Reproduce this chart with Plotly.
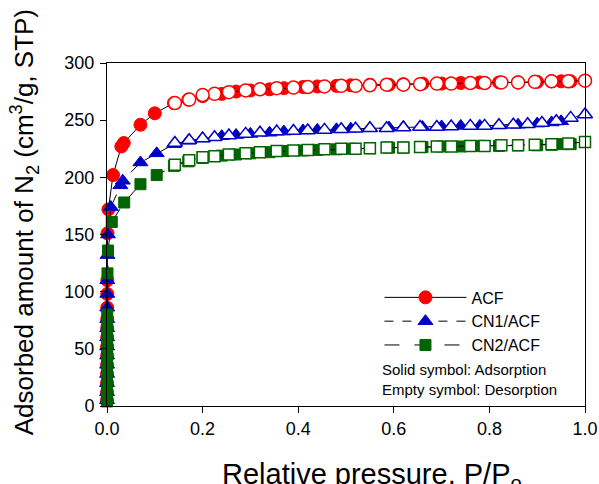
import plotly.graph_objects as go

# ---------------- data ----------------
acf_ads_p = [0.0, 0.0001, 0.0001, 0.0002, 0.0002, 0.0003, 0.0003, 0.0004, 0.0004, 0.0005, 0.0005, 0.0006, 0.0007,
             0.001, 0.003, 0.0125, 0.03, 0.035, 0.07, 0.1,
             0.14, 0.17, 0.2, 0.24, 0.27, 0.3, 0.34, 0.37, 0.41, 0.44, 0.48, 0.51, 0.55, 0.59, 0.62,
             0.66, 0.70, 0.74, 0.78, 0.82, 0.86, 0.90, 0.93, 0.95, 0.97]
acf_ads_v = [5, 12, 20, 28, 36, 44, 52, 60, 68, 76, 86, 98, 110,
             151, 172, 202, 227, 230, 246, 256,
             265, 268, 271, 273, 275, 276, 277, 278, 279, 279.5, 280, 280.5, 281, 281, 281.5,
             282, 282, 282.5, 283, 283, 283, 283.5, 284, 284, 284]
acf_des_p = [1.0, 0.965, 0.93, 0.895, 0.86, 0.825, 0.79, 0.76, 0.72, 0.69, 0.655, 0.62, 0.585, 0.55,
             0.52, 0.49, 0.455, 0.42, 0.39, 0.355, 0.32, 0.29, 0.255, 0.225, 0.2, 0.172, 0.142]
acf_des_v = [284.5, 284, 284, 283.5, 283, 283, 282.5, 282.5, 282, 282, 281.5, 281, 281, 280.5,
             280, 280, 279.5, 279, 278.5, 278, 277, 276, 274.5, 273, 272, 268, 265]

cn1_ads_p = [0.0, 0.0001, 0.0001, 0.0002, 0.0002, 0.0003, 0.0003, 0.0004, 0.0004, 0.0005, 0.0005, 0.0006, 0.0007,
             0.001, 0.002, 0.008, 0.028, 0.033, 0.07, 0.104,
             0.14, 0.17, 0.2, 0.24, 0.27, 0.3, 0.34, 0.37, 0.41, 0.44, 0.48, 0.51, 0.55, 0.59, 0.62,
             0.66, 0.70, 0.74, 0.78, 0.82, 0.86, 0.90, 0.93, 0.95]
cn1_ads_v = [5, 12, 20, 28, 36, 44, 52, 60, 68, 76, 86, 98, 110,
             132, 150, 174, 193, 197, 213, 221,
             229, 232, 234, 236, 237, 238, 239, 240, 241, 241.5, 242, 242.5, 243, 243.5, 244,
             244, 244.5, 245, 245, 245.5, 246, 247, 248, 249]
cn1_des_p = [1.0, 0.97, 0.94, 0.91, 0.88, 0.85, 0.82, 0.79, 0.76, 0.72, 0.69, 0.655, 0.62, 0.585,
             0.55, 0.52, 0.49, 0.455, 0.42, 0.39, 0.355, 0.32, 0.29, 0.255, 0.225, 0.2, 0.172, 0.142]
cn1_des_v = [255, 252, 249, 247.5, 246.5, 246, 245.5, 245, 245, 244.5, 244, 244, 243.5, 243,
             243, 242.5, 242, 241.5, 241, 240.5, 240, 239, 238, 236.5, 235, 234, 232.5, 230]

cn2_ads_p = [0.0, 0.0001, 0.0001, 0.0002, 0.0002, 0.0003, 0.0003, 0.0004, 0.0004, 0.0005, 0.0005,
             0.001, 0.002, 0.01, 0.036, 0.07, 0.104,
             0.14, 0.17, 0.2, 0.24, 0.27, 0.3, 0.34, 0.37, 0.41, 0.44, 0.48, 0.51, 0.55, 0.59, 0.62,
             0.66, 0.70, 0.74, 0.78, 0.82, 0.86, 0.90, 0.93, 0.95, 0.97]
cn2_ads_v = [4, 10, 17, 24, 31, 38, 46, 54, 62, 70, 80,
             116, 136, 161, 178, 194, 202,
             210, 214, 217, 219, 220, 221, 222, 223, 223.5, 224, 224.5, 225, 225.5, 226, 226,
             226.5, 227, 227, 227.5, 227.5, 228, 228, 228.5, 229, 229]
cn2_des_p = [1.0, 0.965, 0.93, 0.895, 0.86, 0.825, 0.79, 0.76, 0.72, 0.69, 0.655, 0.62, 0.585, 0.55,
             0.52, 0.49, 0.455, 0.42, 0.39, 0.355, 0.32, 0.29, 0.255, 0.225, 0.2, 0.172, 0.142]
cn2_des_v = [231, 229.5, 229, 228.5, 228, 228, 227.5, 227.5, 227, 227, 226.5, 226, 226, 225.5,
             225, 225, 224.5, 224, 223.5, 223, 222, 221, 220, 218.5, 217.5, 215, 211]

series = [
    ("ACF", acf_ads_p, acf_ads_v, acf_des_p, acf_des_v, "circle", "#FF0000", "solid", 13),
    ("CN1/ACF", cn1_ads_p, cn1_ads_v, cn1_des_p, cn1_des_v, "triangle-up", "#0000C8", "dash", 13),
    ("CN2/ACF", cn2_ads_p, cn2_ads_v, cn2_des_p, cn2_des_v, "square", "#006400", "longdash", 11),
]

x_ticks = [0.0, 0.2, 0.4, 0.6, 0.8, 1.0]
y_ticks = [0, 50, 100, 150, 200, 250, 300]

fig = go.Figure()
for name, ap, av, dp, dv, sym, col, dash, size in series:
    fig.add_trace(go.Scatter(
        x=ap, y=av, name=name, mode="lines+markers", cliponaxis=False,
        line=dict(color="black", width=1, dash=dash),
        marker=dict(symbol=sym, size=size, color=col, line=dict(color=col, width=1)),
    ))
    fig.add_trace(go.Scatter(
        x=dp, y=dv, name=name + " desorption", mode="lines+markers", cliponaxis=False,
        showlegend=False,
        line=dict(color="black", width=1, dash=dash),
        marker=dict(symbol=sym, size=size, color="white", line=dict(color=col, width=1.5)),
    ))

axis_common = dict(showline=True, linecolor="black", linewidth=1, mirror=True,
                   ticks="outside", ticklen=6, tickwidth=1, tickcolor="black",
                   showgrid=False, zeroline=False, automargin=False,
                   tickfont=dict(family="Liberation Sans, Arial", size=18, color="black"))

fig.update_xaxes(range=[0, 1], tickvals=x_ticks, ticktext=[f"{v:.1f}" for v in x_ticks], **axis_common)
fig.update_yaxes(range=[0, 300], tickvals=y_ticks, ticktext=[str(v) for v in y_ticks],
                 ticklabelstandoff=2, **axis_common)

fig.update_layout(
    template="none",
    width=599, height=484,
    margin=dict(l=107, r=14, t=63, b=78, autoexpand=False),
    paper_bgcolor="white", plot_bgcolor="white",
    font=dict(family="Liberation Sans, Arial", color="black"),
    showlegend=True,
    legend=dict(x=0.57, y=0.366, xanchor="left", yanchor="top",
                bgcolor="rgba(0,0,0,0)", borderwidth=0,
                font=dict(size=16, color="black"), itemwidth=82),
    annotations=[
        dict(text="Solid symbol: Adsorption<br>Empty symbol: Desorption",
             xref="paper", yref="paper", x=0.571, y=0.137, xanchor="left", yanchor="top",
             align="left", showarrow=False, font=dict(size=15, color="black")),
        dict(text="Relative pressure, P/P<sub>o</sub>",
             xref="paper", yref="paper", x=0.554, y=-0.146, xanchor="center", yanchor="top",
             showarrow=False, font=dict(size=29, color="black")),
        dict(text="Adsorbed amount of N<sub>2</sub> (cm<sup>3</sup>/g, STP)",
             xref="paper", yref="paper", x=-0.172, y=0.535, xanchor="center", yanchor="middle",
             textangle=-90, showarrow=False, font=dict(size=26, color="black")),
    ],
)

fig.write_html("out.html")
